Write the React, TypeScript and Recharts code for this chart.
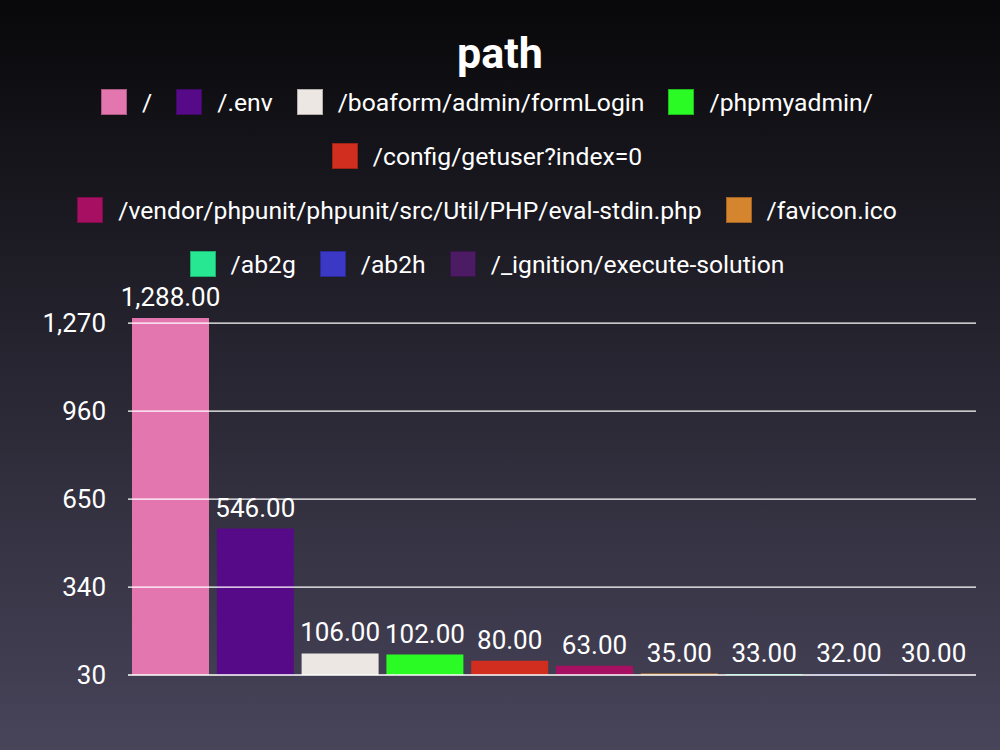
import { BarChart, Bar, XAxis, YAxis, Cell, LabelList, ReferenceLine } from "recharts";

const PATHS = [
  "/",
  "/.env",
  "/boaform/admin/formLogin",
  "/phpmyadmin/",
  "/config/getuser?index=0",
  "/vendor/phpunit/phpunit/src/Util/PHP/eval-stdin.php",
  "/favicon.ico",
  "/ab2g",
  "/ab2h",
  "/_ignition/execute-solution",
];

const HITS = [1288, 546, 106, 102, 80, 63, 35, 33, 32, 30];

const COLORS = [
  "#e476af",
  "#570a87",
  "#ece7e3",
  "#2afb24",
  "#d22e20",
  "#a70f62",
  "#d6852f",
  "#27e792",
  "#3a38c5",
  "#4b1b63",
];

const Y_TICKS = [30, 340, 650, 960, 1270];

const FONT = "Roboto, 'Noto Sans', sans-serif";

const data = PATHS.map((path, i) => ({ path, hits: HITS[i] }));

const fmt = (v: number) =>
  Number(v).toLocaleString("en-US", {
    minimumFractionDigits: 2,
    maximumFractionDigits: 2,
  });

function Legend() {
  return (
    <div
      style={{
        position: "absolute",
        top: 75,
        left: 27,
        width: 920,
        display: "flex",
        flexWrap: "wrap",
        justifyContent: "center",
      }}
    >
      {PATHS.map((p, i) => (
        <div
          key={p}
          style={{
            display: "flex",
            alignItems: "center",
            height: 54,
            margin: "0 12px",
          }}
        >
          <div
            style={{
              width: 26,
              height: 26,
              background: COLORS[i],
              boxSizing: "border-box",
              border: "1px solid rgba(0,0,0,0.25)",
              marginRight: 15,
            }}
          />
          <span style={{ fontSize: 24.7, color: "#ffffff", whiteSpace: "nowrap" }}>
            {p}
          </span>
        </div>
      ))}
    </div>
  );
}

export default function App() {
  return (
    <div
      style={{
        position: "absolute",
        left: 0,
        top: 0,
        width: 1000,
        height: 750,
        background: "linear-gradient(to bottom, #08080a 0%, #48445a 100%)",
        fontFamily: FONT,
        overflow: "hidden",
      }}
    >
      <div
        style={{
          position: "absolute",
          top: 28,
          width: "100%",
          textAlign: "center",
          fontSize: 43,
          fontWeight: 700,
          color: "#ffffff",
          lineHeight: "50px",
        }}
      >
        path
      </div>
      <Legend />
      <div style={{ position: "absolute", left: 0, top: 0 }}>
        <BarChart
          width={1000}
          height={750}
          data={data}
          margin={{ top: 318, right: 24, bottom: 75, left: 0 }}
          barCategoryGap={4}
        >
          <XAxis dataKey="path" hide />
          <YAxis
            width={128}
            domain={[30, 1288]}
            ticks={Y_TICKS}
            tickFormatter={(v: number) => v.toLocaleString("en-US")}
            axisLine={false}
            tickLine={false}
            tickSize={0}
            tickMargin={22}
            tick={{ fill: "#ffffff", fontSize: 26, fontFamily: FONT }}
            interval={0}
          />
          {Y_TICKS.map((t) => (
            <ReferenceLine key={t} y={t} stroke="#ffffff" strokeWidth={1.3} />
          ))}
          <Bar dataKey="hits" isAnimationActive={false} minPointSize={1}>
            {data.map((d, i) => (
              <Cell key={d.path} fill={COLORS[i]} />
            ))}
            <LabelList
              dataKey="hits"
              position="top"
              offset={12}
              formatter={(v: any) => fmt(v)}
              fill="#ffffff"
              fontSize={26}
              fontFamily={FONT}
            />
          </Bar>
        </BarChart>
      </div>
    </div>
  );
}
